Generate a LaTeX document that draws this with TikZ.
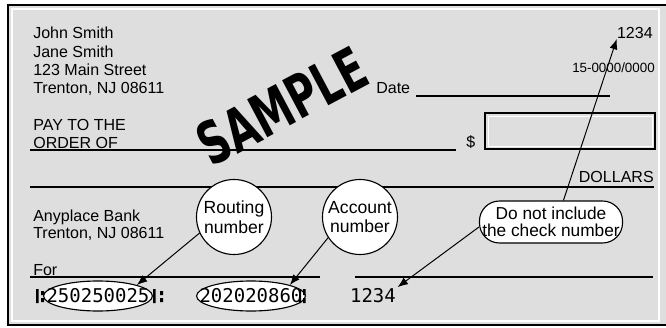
\documentclass[tikz,border=0pt]{standalone}
\usepackage{fontspec}
\setmainfont{Liberation Sans}
\newfontfamily\micrfont{DejaVu Sans Mono}
\newfontfamily\stampfont{DejaVu Sans}
\usetikzlibrary{arrows.meta,shapes.geometric}
\definecolor{paper}{gray}{0.87}

\tikzset{
  field/.style={inner sep=0pt, font=\fontsize{11.4}{13}\selectfont},
  bubble/.style={circle, draw, fill=white, line width=0.8pt, minimum size=1.875cm,
    inner sep=0pt, align=center, font=\fontsize{12.5}{14}\selectfont},
  micr/.style={ellipse, draw, fill=white, line width=0.8pt, minimum width=2.72cm,
    minimum height=0.75cm, inner sep=0pt},
  micrtext/.style={inner sep=1pt, font=\micrfont\fontsize{13.5}{14}\selectfont},
  pointer/.style={-{Latex[length=2.6mm,width=2mm]}, line width=0.7pt},
}

\begin{document}
\begin{tikzpicture}[x=0.025cm, y=-0.025cm]
        \useasboundingbox (0,0) rectangle (666,328);
        \fill[paper] (8,5) rectangle (666,325);
        \draw[white, line width=1.2pt] (12,9) rectangle (659,321);
        \draw[line width=1.4pt] (666,5) -- (8,5) -- (8,325) -- (666,325);

        \node[field, anchor=north west, align=left] (owner) at (33,27) {John Smith\\Jane Smith\\123 Main Street\\Trenton, NJ 08611};
        \node[field, anchor=east] (checktop) at (653,33) {1234};
        \node[field, anchor=east, font=\fontsize{9.5}{11}\selectfont] (fraction) at (655,68) {15-0000/0000};
        \node[field, anchor=west] (date) at (376,88) {Date};
        \draw[line width=1pt] (416,96) -- (610,96);

        \node[rotate=28, xscale=0.68, inner sep=0pt, font=\stampfont\fontsize{42}{42}\selectfont\bfseries] (stamp) at (282,106) {SAMPLE};

        \node[field, anchor=north west, align=left] (payee) at (33,119) {PAY TO THE\\ORDER OF};
        \draw[line width=1pt] (30,150) -- (456,150);
        \node[field, anchor=west] (dollarsign) at (466,142) {\$};
        \draw[line width=1pt] (485,113) rectangle (655,149);
        \draw[white, line width=0.6pt] (488,116) rectangle (652,146);

        \draw[line width=1pt] (30,187) -- (654,187);
        \node[field, anchor=east] (dollars) at (654,177) {DOLLARS};

        \node[field, anchor=north west, align=left] (bank) at (33,210) {Anyplace Bank\\[-1pt]Trenton, NJ 08611};
        \node[field, anchor=west] (memo) at (33,270) {For};
        \draw[line width=1pt] (30,277) -- (320,277);
        \draw[line width=1pt] (355,277) -- (653,277);

        \node[micr] (routnum) at (98,296) {};
        \node[micrtext] (routdigits) at (routnum) {250250025};
        \node[micr] (acctnum) at (251,296) {};
        \node[micrtext] (acctdigits) at (acctnum) {202020860};
        \node[micrtext] (checknum) at (373,296) {1234};
        % transit and on-us marks
        \fill (36,289) rectangle (38.5,303) (41,291) rectangle (44,295) (41,298) rectangle (44,302);
        \fill (153,289) rectangle (155.5,303) (160,291) rectangle (163,295) (160,298) rectangle (163,302);
        \fill (299,289) rectangle (301,303) (303,289) rectangle (305.5,295) (303,298) rectangle (305.5,303);

        \node[bubble] (routing) at (234,217) {Routing\\number};
        \node[bubble] (account) at (360,217) {Account\\number};
        \node[draw, fill=white, line width=0.8pt, rounded corners=0.5cm, minimum width=3.575cm,
          minimum height=1.05cm, inner sep=0pt, align=center,
          font=\fontsize{12.3}{12.3}\selectfont] (callout) at (551,222) {Do not include\\the check number};

        \draw[pointer] (routing.205) -- (routnum.north east);
        \draw[pointer] (account.213) -- (acctnum.north east);
        \draw[pointer] (callout.184) -- (checknum.north east);
        \draw[pointer] (callout.60) -- (checktop.south west);
\end{tikzpicture}
\end{document}
